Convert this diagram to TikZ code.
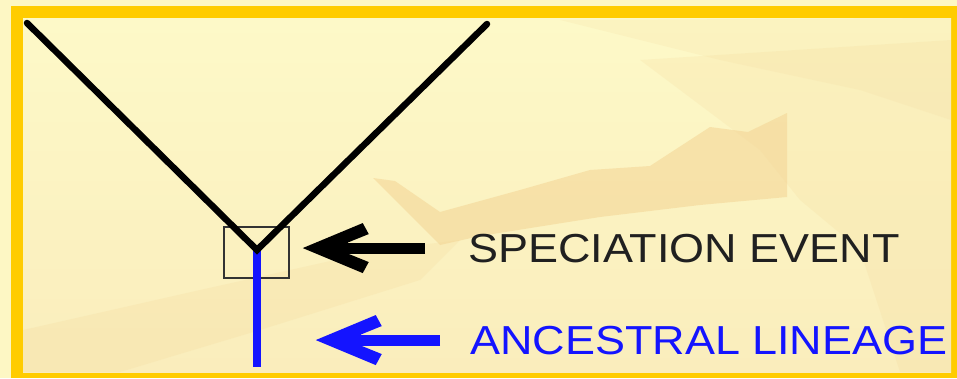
\documentclass[tikz,border=0pt]{standalone}
\usepackage{fontspec}
\setmainfont{Liberation Sans}
\usetikzlibrary{calc}
\definecolor{outercream}{HTML}{FDF7C4}
\definecolor{gold}{HTML}{FFCC00}
\definecolor{creamtop}{HTML}{FDF9C8}
\definecolor{creambot}{HTML}{FAEDBC}
\definecolor{beige}{HTML}{F3D494}
\definecolor{lineblue}{HTML}{1414FF}
\definecolor{txtgray}{HTML}{202020}
\pgfdeclarearrow{
  name = PBarb,
  setup code = {
    \pgfarrowssettipend{0pt}
    \pgfarrowssetbackend{-67pt}
    \pgfarrowssetlineend{-40pt}
    \pgfarrowssetvisualbackend{-40pt}
    \pgfarrowshullpoint{0pt}{0pt}
    \pgfarrowshullpoint{-67pt}{26pt}
    \pgfarrowshullpoint{-67pt}{-26pt}
  },
  drawing code = {
    \pgfpathmoveto{\pgfpointorigin}
    \pgfpathlineto{\pgfpoint{-60pt}{25pt}}
    \pgfpathlineto{\pgfpoint{-66pt}{14pt}}
    \pgfpathlineto{\pgfpoint{-45pt}{5.5pt}}
    \pgfpathlineto{\pgfpoint{-45pt}{-5.5pt}}
    \pgfpathlineto{\pgfpoint{-66pt}{-14pt}}
    \pgfpathlineto{\pgfpoint{-60pt}{-25pt}}
    \pgfpathclose
    \pgfusepathqfill
  }
}
\tikzset{
  branch/.style={line width=6.5pt, line cap=round, line join=miter, black},
  lineage/.style={line width=8pt, lineblue},
  evbox/.style={draw=black!80, line width=1.5pt, minimum width=65pt, minimum height=51pt, inner sep=0pt},
  bigtext/.style={anchor=base west, inner sep=0pt, xscale=1.11, font=\fontsize{40.5}{48}\selectfont},
  pointer/.style={line width=11pt, -PBarb},
  brush/.style={fill=beige, opacity=0.55}
}
\begin{document}
\begin{tikzpicture}[x=1pt, y=-1pt]
\useasboundingbox (0,0) rectangle (957,378);
\fill[outercream] (0,0) rectangle (957,378);
\fill[gold] (11,6) rectangle (957,378);
\shade[top color=creamtop, bottom color=creambot] (23,18) rectangle (951,372);
\begin{scope}
\clip (23,18) rectangle (951,372);
\fill[brush] (373,178) -- (395,181) -- (440,212) -- (520,190) -- (590,170) -- (650,166)
  -- (710,127) -- (748,132) -- (787,113) -- (787,197) -- (700,205) -- (600,217)
  -- (480,236) -- (440,245) -- cycle;
\fill[brush, opacity=0.18] (640,60) -- (951,40) -- (951,372) -- (900,372) -- (860,250)
  -- (800,200) -- (760,150) -- cycle;
\fill[brush, opacity=0.2] (23,372) -- (23,330) -- (200,290) -- (380,250) -- (460,240)
  -- (420,280) -- (260,330) -- (120,372) -- cycle;
\fill[brush, opacity=0.15] (560,20) -- (951,18) -- (951,120) -- (860,90) -- (720,60) -- cycle;
\end{scope}
\coordinate (tl) at (27,23);
\coordinate (tr) at (487,24);
\coordinate (v) at (257,250);
\coordinate (bot) at (257,367);
\node[evbox] (box) at (256.5,252.5) {};
\draw[lineage] (v) -- (bot);
\draw[branch] (tl) -- (v) -- (tr);
\node[bigtext, text=txtgray] (spec) at (468,262) {SPECIATION EVENT};
\node[bigtext, text=lineblue] (anc) at (470,354) {ANCESTRAL LINEAGE};
\draw[pointer, black] ($(spec.west)+(-43,0)$) -- ($(box.east |- spec.west)+(13,0)$);
\draw[pointer, lineblue] ($(anc.west)+(-30,0)$) -- ($(box.east |- anc.west)+(26,0)$);
\end{tikzpicture}
\end{document}
